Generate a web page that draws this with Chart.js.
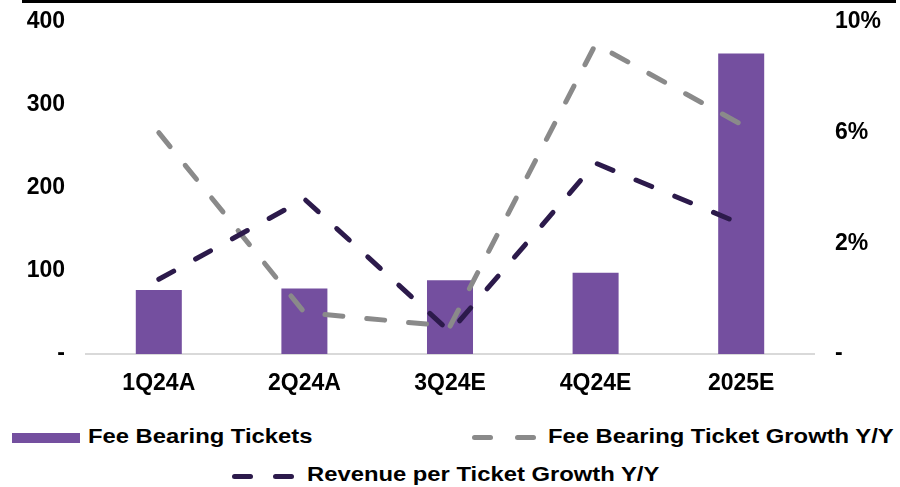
<!DOCTYPE html>
<html>
<head>
<meta charset="utf-8">
<script src="https://cdn.jsdelivr.net/npm/chart.js@4.4.1/dist/chart.umd.min.js"></script>
<style>
    body { margin: 0; background: #fff; font-family: "Liberation Sans", Arial, sans-serif; }
    #wrap { position: relative; width: 900px; height: 487px; overflow: hidden; }
    #topline { position: absolute; left: 22px; top: 0; width: 874px; height: 3px; background: #000; }
    #chartbox { position: absolute; left: 0; top: 0; width: 900px; height: 400px; }
    .lg { position: absolute; font-weight: bold; font-size: 20px; line-height: 24px; color: #000;
          white-space: nowrap; transform: scaleX(1.19); transform-origin: left center; }
    .sw { position: absolute; }
    .dash { position: absolute; height: 5px; width: 21px; border-radius: 3px; }
</style>
</head>
<body>
<div id="wrap">
    <div id="chartbox"><canvas id="chart" width="900" height="400"></canvas></div>
    <div id="topline"></div>
    <div id="legend"></div>
</div>
<script>
const categories = ['1Q24A', '2Q24A', '3Q24E', '4Q24E', '2025E'];
const feeBearingTickets = [77, 79, 89, 98, 362];
const ticketGrowth = [6.0, -0.5, -1.0, 9.2, 6.3];
const revenuePerTicketGrowth = [0.7, 3.6, -1.2, 4.9, 2.7];
const leftTicks = [0, 100, 200, 300, 400];
const rightTicks = [-2, 2, 6, 10];

const PURPLE = '#744f9f';
const GREY = '#8a8a8a';
const DARK = '#2c1a4b';
const FONT = { family: "'Liberation Sans', Arial, sans-serif", size: 23, weight: 'bold' };

// legend drawn as html below the chart
function buildLegend() {
    const lg = document.getElementById('legend');
    lg.innerHTML =
        `<div class="sw" style="left:12px;top:433px;width:68px;height:10px;background:${PURPLE}"></div>` +
        `<div class="lg" style="left:88px;top:424px">Fee Bearing Tickets</div>` +
        `<div class="dash" style="left:472px;top:435px;background:${GREY}"></div>` +
        `<div class="dash" style="left:515px;top:435px;background:${GREY}"></div>` +
        `<div class="lg" style="left:548px;top:424px">Fee Bearing Ticket Growth Y/Y</div>` +
        `<div class="dash" style="left:232px;top:474px;background:${DARK}"></div>` +
        `<div class="dash" style="left:273px;top:474px;background:${DARK}"></div>` +
        `<div class="lg" style="left:307px;top:462px">Revenue per Ticket Growth Y/Y</div>`;
}
buildLegend();

// fixed axis sizes, and no extra label padding above/below the plot
function fixY(s) {
    s.width = 86;
    s.paddingTop = 0;
    s.paddingBottom = 0;
}

let config = {
    data: {
        labels: categories,
        datasets: [
            {
                type: 'line',
                label: 'Fee Bearing Ticket Growth Y/Y',
                data: ticketGrowth,
                yAxisID: 'y1',
                borderColor: GREY,
                borderWidth: 5,
                borderDash: [18, 24],
                borderCapStyle: 'round',
                pointRadius: 0,
                tension: 0,
                order: 1
            },
            {
                type: 'line',
                label: 'Revenue per Ticket Growth Y/Y',
                data: revenuePerTicketGrowth,
                yAxisID: 'y1',
                borderColor: DARK,
                borderWidth: 5,
                borderDash: [17, 25],
                borderCapStyle: 'round',
                pointRadius: 0,
                tension: 0,
                order: 0
            },
            {
                type: 'bar',
                label: 'Fee Bearing Tickets',
                data: feeBearingTickets,
                yAxisID: 'y',
                backgroundColor: PURPLE,
                borderWidth: 0,
                barPercentage: 0.316,
                categoryPercentage: 1,
                order: 2
            }
        ]
    },
    options: {
        responsive: false,
        animation: false,
        layout: { padding: { top: 22, left: 0, right: 0, bottom: 0 } },
        plugins: {
            legend: { display: false },
            tooltip: { enabled: false }
        },
        scales: {
            x: {
                grid: { display: false, drawTicks: false },
                border: { display: true, color: '#d9d9d9', width: 2 },
                ticks: { font: FONT, color: '#000', padding: 16 },
                afterFit: s => { s.height = 46; s.paddingLeft = 0; s.paddingRight = 0; }
            },
            y: {
                position: 'left',
                min: 0,
                max: 400,
                grid: { display: false, drawTicks: false },
                border: { display: false },
                afterBuildTicks: s => { s.ticks = leftTicks.map(v => ({ value: v })); },
                ticks: {
                    font: FONT,
                    color: '#000',
                    padding: 21,
                    callback: v => v === 0 ? '-' : v
                },
                afterFit: fixY
            },
            y1: {
                position: 'right',
                min: -2,
                max: 10,
                grid: { display: false, drawTicks: false },
                border: { display: false },
                afterBuildTicks: s => { s.ticks = rightTicks.map(v => ({ value: v })); },
                ticks: {
                    font: FONT,
                    color: '#000',
                    padding: 21,
                    callback: v => v === -2 ? '-' : v + '%'
                },
                afterFit: fixY
            }
        }
    }
};

let ctx = document.getElementById('chart').getContext('2d');
let chart = new Chart(ctx, config);
</script>
</body>
</html>
